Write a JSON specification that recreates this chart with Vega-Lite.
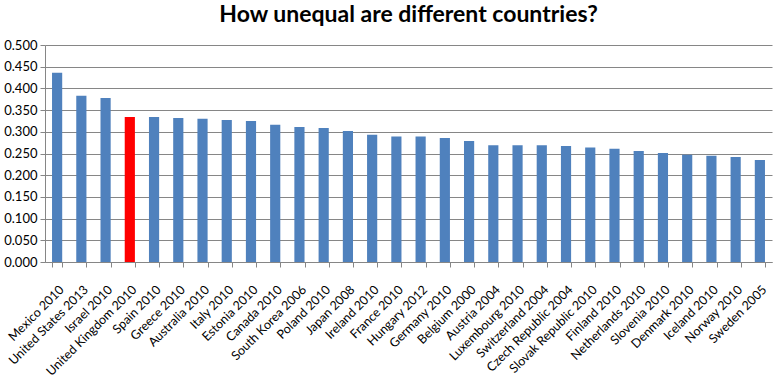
{
  "$schema": "https://vega.github.io/schema/vega-lite/v6.json",
  "autosize": "none",
  "width": 727,
  "height": 217,
  "padding": {"left": 45, "top": 45, "right": 12, "bottom": 113},
  "background": "white",
  "title": {
    "text": "How unequal are different countries?",
    "font": "Lato",
    "fontSize": 23,
    "fontWeight": "bold",
    "color": "#000000",
    "anchor": "middle",
    "offset": 12
  },
  "data": {
    "values": [
      {"country": "Mexico 2010", "gini": 0.436, "group": "other"},
      {"country": "United States 2013", "gini": 0.383, "group": "other"},
      {"country": "Israel 2010", "gini": 0.378, "group": "other"},
      {"country": "United Kingdom 2010", "gini": 0.334, "group": "uk"},
      {"country": "Spain 2010", "gini": 0.334, "group": "other"},
      {"country": "Greece 2010", "gini": 0.332, "group": "other"},
      {"country": "Australia 2010", "gini": 0.330, "group": "other"},
      {"country": "Italy 2010", "gini": 0.327, "group": "other"},
      {"country": "Estonia 2010", "gini": 0.325, "group": "other"},
      {"country": "Canada 2010", "gini": 0.316, "group": "other"},
      {"country": "South Korea 2006", "gini": 0.311, "group": "other"},
      {"country": "Poland 2010", "gini": 0.309, "group": "other"},
      {"country": "Japan 2008", "gini": 0.302, "group": "other"},
      {"country": "Ireland 2010", "gini": 0.293, "group": "other"},
      {"country": "France 2010", "gini": 0.289, "group": "other"},
      {"country": "Hungary 2012", "gini": 0.289, "group": "other"},
      {"country": "Germany 2010", "gini": 0.286, "group": "other"},
      {"country": "Belgium 2000", "gini": 0.279, "group": "other"},
      {"country": "Austria 2004", "gini": 0.269, "group": "other"},
      {"country": "Luxembourg 2010", "gini": 0.269, "group": "other"},
      {"country": "Switzerland 2004", "gini": 0.269, "group": "other"},
      {"country": "Czech Republic 2004", "gini": 0.267, "group": "other"},
      {"country": "Slovak Republic 2010", "gini": 0.264, "group": "other"},
      {"country": "Finland 2010", "gini": 0.261, "group": "other"},
      {"country": "Netherlands 2010", "gini": 0.256, "group": "other"},
      {"country": "Slovenia 2010", "gini": 0.251, "group": "other"},
      {"country": "Denmark 2010", "gini": 0.247, "group": "other"},
      {"country": "Iceland 2010", "gini": 0.245, "group": "other"},
      {"country": "Norway 2010", "gini": 0.242, "group": "other"},
      {"country": "Sweden 2005", "gini": 0.235, "group": "other"}
    ]
  },
  "mark": {"type": "bar"},
  "encoding": {
    "x": {
      "field": "country",
      "type": "nominal",
      "sort": null,
      "scale": {"paddingInner": 0.58, "paddingOuter": 0.29},
      "axis": {
        "title": null,
        "labelAngle": -45,
        "labelFont": "Lato",
        "labelFontSize": 12.5,
        "labelColor": "#000000",
        "labelPadding": 16,
        "tickBand": "extent",
        "tickSize": 5,
        "tickColor": "#868686",
        "domainColor": "#868686",
        "grid": false,
        "labelOverlap": false
      }
    },
    "y": {
      "field": "gini",
      "type": "quantitative",
      "scale": {"domain": [0, 0.5], "nice": false},
      "axis": {
        "title": null,
        "values": [0, 0.05, 0.1, 0.15, 0.2, 0.25, 0.3, 0.35, 0.4, 0.45, 0.5],
        "format": ".3f",
        "labelFont": "Lato",
        "labelFontSize": 13,
        "labelColor": "#000000",
        "labelPadding": 3,
        "tickSize": 5,
        "tickColor": "#868686",
        "domainColor": "#868686",
        "gridColor": "#868686",
        "gridWidth": 1,
        "gridOpacity": 1
      }
    },
    "color": {
      "field": "group",
      "type": "nominal",
      "scale": {"domain": ["other", "uk"], "range": ["#4F81BD", "#FF0000"]},
      "legend": null
    }
  },
  "config": {"view": {"stroke": null}}
}
